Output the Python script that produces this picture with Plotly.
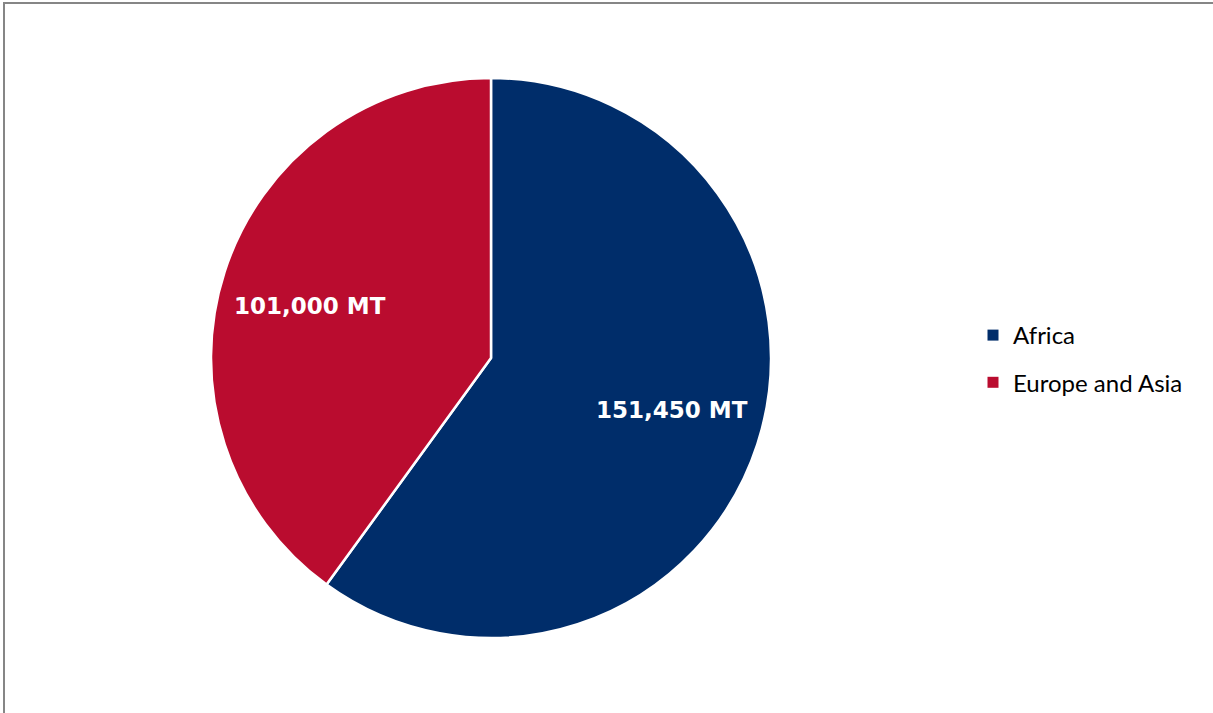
import math
import plotly.graph_objects as go

# Tonnage by region
regions = ["Africa", "Europe and Asia"]
tonnes = [151450, 101000]
slice_colors = ["#002D6A", "#BA0C2F"]

W, H = 1213, 713

# Pie placement in pixels
cx, cy, radius = 491, 358, 280
label_rx, label_ry = 0.68, 0.60  # label offset from centre, as a fraction of the radius

fig = go.Figure()
fig.add_trace(
    go.Pie(
        labels=regions,
        values=tonnes,
        sort=False,
        direction="clockwise",
        rotation=0,
        marker=dict(colors=slice_colors, line=dict(color="white", width=2.5)),
        textinfo="none",
        domain=dict(x=[(cx - radius) / W, (cx + radius) / W],
                    y=[(H - cy - radius) / H, (H - cy + radius) / H]),
        hoverinfo="label+value",
        showlegend=False,
    )
)

# Legend entries (one group per region so the rows can be spaced apart)
for name, col in zip(regions, slice_colors):
    fig.add_trace(
        go.Scatter(
            x=[None], y=[None], mode="markers", name=name, legendgroup=name,
            marker=dict(symbol="square", size=11, color=col),
        )
    )

# Value labels placed at the middle angle of each slice
total = sum(tonnes)
annotations = []
start = 0.0
for val in tonnes:
    mid = (start + val / 2) / total * 2 * math.pi  # clockwise from 12 o'clock
    px = cx + label_rx * radius * math.sin(mid)
    py = cy - label_ry * radius * math.cos(mid)
    annotations.append(
        dict(
            x=px / W, y=(H - py) / H, xref="paper", yref="paper",
            text=f"{val:,} MT", showarrow=False,
            xanchor="center", yanchor="middle",
            font=dict(family="DejaVu Sans", size=23, color="white", weight="bold"),
        )
    )
    start += val

fig.update_layout(
    width=W,
    height=H,
    margin=dict(l=0, r=0, t=0, b=0),
    paper_bgcolor="white",
    plot_bgcolor="white",
    xaxis=dict(visible=False),
    yaxis=dict(visible=False),
    showlegend=True,
    legend=dict(
        x=973 / W,
        y=(H - 313) / H,
        xanchor="left",
        yanchor="top",
        traceorder="grouped",
        tracegroupgap=13,
        font=dict(family="Lato", size=24, color="black"),
        itemwidth=30,
        bgcolor="rgba(0,0,0,0)",
    ),
    annotations=annotations,
    shapes=[
        dict(
            type="rect",
            xref="paper",
            yref="paper",
            x0=4 / W,
            x1=1.02,
            y0=-0.02,
            y1=1 - 3 / H,
            line=dict(color="#868686", width=2),
            fillcolor="rgba(0,0,0,0)",
        )
    ],
)

fig.write_html("out.html")
